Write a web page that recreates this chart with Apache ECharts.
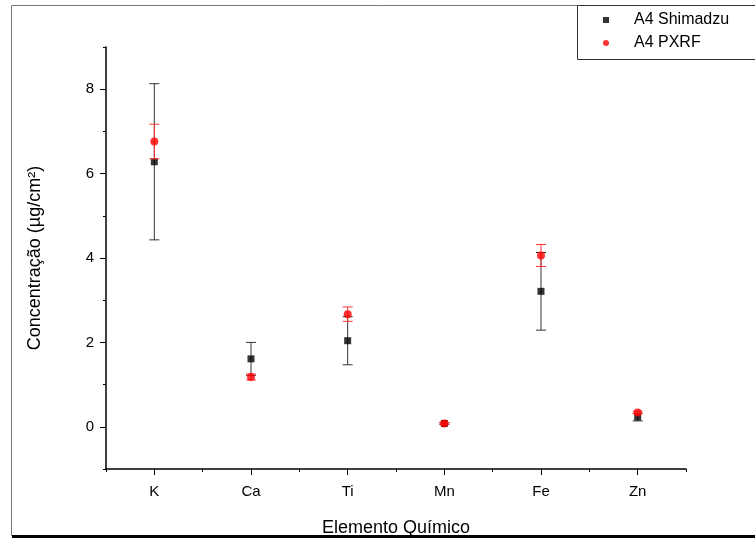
<!DOCTYPE html>
<html>
<head>
<meta charset="utf-8">
<script src="https://cdn.jsdelivr.net/npm/echarts@6/dist/echarts.min.js"></script>
<style>
  html, body { margin: 0; padding: 0; background: #fff; }
  #chart { width: 755px; height: 538px; }
</style>
</head>
<body>
<div id="chart"></div>
<script>
// elementos e valores (µg/cm²)
const elements = ['K', 'Ca', 'Ti', 'Mn', 'Fe', 'Zn']
const shimadzuValues = [6.28, 1.61, 2.04, 0.08, 3.21, 0.23]
const shimadzuErrors = [1.85, 0.39, 0.57, 0.02, 0.92, 0.09]
const pxrfValues = [6.76, 1.18, 2.67, 0.08, 4.06, 0.34]
const pxrfErrors = [0.41, 0.07, 0.17, 0.02, 0.26, 0.03]
const yTicks = [0, 2, 4, 6, 8]
const yMinorTicks = [-1, 1, 3, 5, 7, 9]

const font = 'Liberation Sans, Arial, sans-serif'
const chart = echarts.init(document.getElementById('chart'), null, { renderer: 'canvas' })

// monta os dados das barras de erro [x, baixo, alto]
function errorData(values, errors) {
  return values.map((v, i) => [i, v - errors[i], v + errors[i]])
}

// desenha barra de erro com tampas
function errorRenderer(color) {
  return function (params, api) {
    const x = api.value(0)
    const lo = api.coord([x, api.value(1)])
    const hi = api.coord([x, api.value(2)])
    const w = 5
    const style = { stroke: color, lineWidth: 1 }
    return {
      type: 'group',
      children: [
        { type: 'line', shape: { x1: lo[0], y1: lo[1], x2: hi[0], y2: hi[1] }, style },
        { type: 'line', shape: { x1: lo[0] - w, y1: lo[1], x2: lo[0] + w, y2: lo[1] }, style },
        { type: 'line', shape: { x1: hi[0] - w, y1: hi[1], x2: hi[0] + w, y2: hi[1] }, style }
      ]
    }
  }
}

const option = {
  animation: false,
  backgroundColor: '#fff',
  textStyle: { fontFamily: font },
  grid: { left: 106, right: 69, top: 47, bottom: 69, outerBoundsMode: 'none', containLabel: false },
  legend: {
    orient: 'vertical',
    left: 598,
    top: 7,
    itemWidth: 6,
    itemHeight: 6,
    itemGap: 7,
    data: [
      { name: 'A4 Shimadzu', icon: 'rect' },
      { name: 'A4 PXRF', icon: 'circle' }
    ],
    textStyle: { fontFamily: font, fontSize: 16, color: '#000', padding: [0, 0, 0, 20] }
  },
  xAxis: [
    {
      type: 'category',
      data: elements,
      boundaryGap: true,
      name: 'Elemento Químico',
      nameLocation: 'middle',
      nameGap: 50,
      nameTextStyle: { fontFamily: font, fontSize: 18, color: '#000' },
      axisLine: { onZero: false, lineStyle: { color: '#000', width: 1.5 } },
      axisTick: { show: true, alignWithLabel: true, length: 6, lineStyle: { color: '#000' } },
      axisLabel: { fontFamily: font, fontSize: 15, color: '#000', margin: 15 },
      splitLine: { show: false }
    },
    {
      type: 'category',
      data: elements,
      boundaryGap: true,
      position: 'bottom',
      axisLine: { show: false, onZero: false },
      axisTick: { show: true, alignWithLabel: false, length: 3, lineStyle: { color: '#000' } },
      axisLabel: { show: false },
      splitLine: { show: false }
    }
  ],
  yAxis: [
    {
      type: 'value',
      min: -1,
      max: 9,
      name: 'Concentração (µg/cm²)',
      nameLocation: 'middle',
      nameGap: 62,
      nameTextStyle: { fontFamily: font, fontSize: 18, color: '#000' },
      axisLine: { show: true, onZero: false, lineStyle: { color: '#000', width: 1.5 } },
      axisTick: { show: true, length: 6, customValues: yTicks, lineStyle: { color: '#000' } },
      axisLabel: { fontFamily: font, fontSize: 15, color: '#000', margin: 12, customValues: yTicks },
      splitLine: { show: false }
    },
    {
      type: 'value',
      min: -1,
      max: 9,
      position: 'left',
      axisLine: { show: false, onZero: false },
      axisTick: { show: true, length: 3, customValues: yMinorTicks, lineStyle: { color: '#000' } },
      axisLabel: { show: false },
      splitLine: { show: false }
    }
  ],
  graphic: [
    { type: 'rect', shape: { x: 11.5, y: 5.5, width: 760, height: 530 }, style: { fill: 'none', stroke: '#777', lineWidth: 1 }, z: -1 },
    { type: 'rect', shape: { x: 12, y: 535, width: 743, height: 3 }, style: { fill: '#000' } },
    { type: 'rect', shape: { x: 577.5, y: 5.5, width: 200, height: 54 }, style: { fill: '#fff', stroke: '#333', lineWidth: 1 }, z: 0 }
  ],
  series: [
    {
      type: 'custom',
      name: 'erro Shimadzu',
      renderItem: errorRenderer('#333'),
      data: errorData(shimadzuValues, shimadzuErrors),
      encode: { x: 0, y: [1, 2] },
      z: 2
    },
    {
      type: 'scatter',
      name: 'A4 Shimadzu',
      data: shimadzuValues,
      symbol: 'rect',
      symbolSize: 7,
      itemStyle: { color: '#000' },
      z: 3
    },
    {
      type: 'custom',
      name: 'erro PXRF',
      renderItem: errorRenderer('#f33'),
      data: errorData(pxrfValues, pxrfErrors),
      encode: { x: 0, y: [1, 2] },
      z: 4
    },
    {
      type: 'scatter',
      name: 'A4 PXRF',
      data: pxrfValues,
      symbol: 'circle',
      symbolSize: 8,
      itemStyle: { color: '#f00' },
      z: 5
    }
  ]
}

chart.setOption(option)
</script>
</body>
</html>
